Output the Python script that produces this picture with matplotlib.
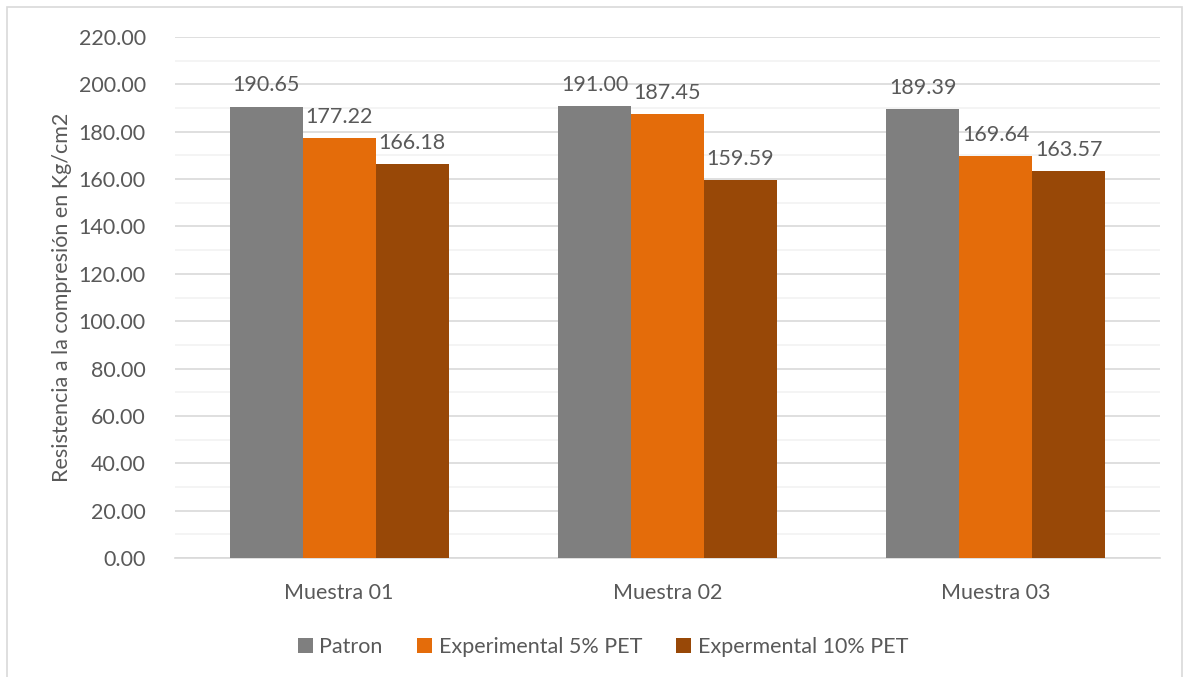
import matplotlib.pyplot as plt
import numpy as np
from matplotlib.patches import Rectangle

plt.rcParams['font.family'] = ['Lato', 'DejaVu Sans']

# datos de resistencia a la compresion (Kg/cm2)
categories = ["Muestra 01", "Muestra 02", "Muestra 03"]
series_names = ["Patron", "Experimental 5% PET", "Expermental 10% PET"]
patron = [190.65, 191.00, 189.39]
exp_5 = [177.22, 187.45, 169.64]
exp_10 = [166.18, 159.59, 163.57]
y_ticks = [0, 20, 40, 60, 80, 100, 120, 140, 160, 180, 200, 220]

colors = ['#7f7f7f', '#e46c0a', '#984807']
text_color = '#595959'
fs = 15.5

fig = plt.figure(figsize=(11.91, 6.77), dpi=100)
ax = fig.add_axes([175 / 1191, 1 - 558 / 677, 985 / 1191, 521 / 677])

# marco exterior del grafico
fig.patches.append(Rectangle((7 / 1191, -0.1), 1182 / 1191 - 7 / 1191, 1.1 - 7 / 677,
                             transform=fig.transFigure, fill=False,
                             edgecolor='#d9d9d9', linewidth=1.2))

x = np.arange(len(categories))
width = 0.222
all_series = [patron, exp_5, exp_10]

for k, (vals, name, col) in enumerate(zip(all_series, series_names, colors)):
    pos = x + (k - 1) * width
    bars = ax.bar(pos, vals, width, color=col, label=name, zorder=3)
    for b, v in zip(bars, vals):
        ax.annotate(f"{v:.2f}", (b.get_x() + b.get_width() / 2, v),
                    xytext=(0, 8), textcoords='offset points',
                    ha='center', va='bottom', fontsize=fs, color=text_color)

ax.set_xlim(-0.5, 2.5)
ax.set_ylim(0, 220)
ax.set_yticks(y_ticks)
ax.set_yticklabels([f"{t:.2f}" for t in y_ticks])
ax.set_yticks(np.arange(10, 220, 20), minor=True)
ax.set_xticks(x)
ax.set_xticklabels(categories)

ax.grid(axis='y', which='major', color='#d9d9d9', linewidth=1.2, zorder=0)
ax.grid(axis='y', which='minor', color='#f2f2f2', linewidth=1.2, zorder=0)

for s in ['top', 'right', 'left']:
    ax.spines[s].set_visible(False)
ax.spines['bottom'].set_color('#d9d9d9')
ax.spines['bottom'].set_linewidth(1.2)

ax.tick_params(axis='both', which='both', length=0, labelsize=fs, colors=text_color)
ax.tick_params(axis='y', pad=21)
ax.tick_params(axis='x', pad=18)

ax.set_ylabel("Resistencia a la compresión en Kg/cm2", fontsize=fs, color=text_color,
              labelpad=5)

leg = fig.legend(loc='center', bbox_to_anchor=(603 / 1191, 1 - 647 / 677), ncol=3,
                 frameon=False, fontsize=fs, handlelength=0.7, handleheight=0.7,
                 handletextpad=0.3, columnspacing=1.6)
for t in leg.get_texts():
    t.set_color(text_color)

fig.savefig("out.png", dpi=100)
